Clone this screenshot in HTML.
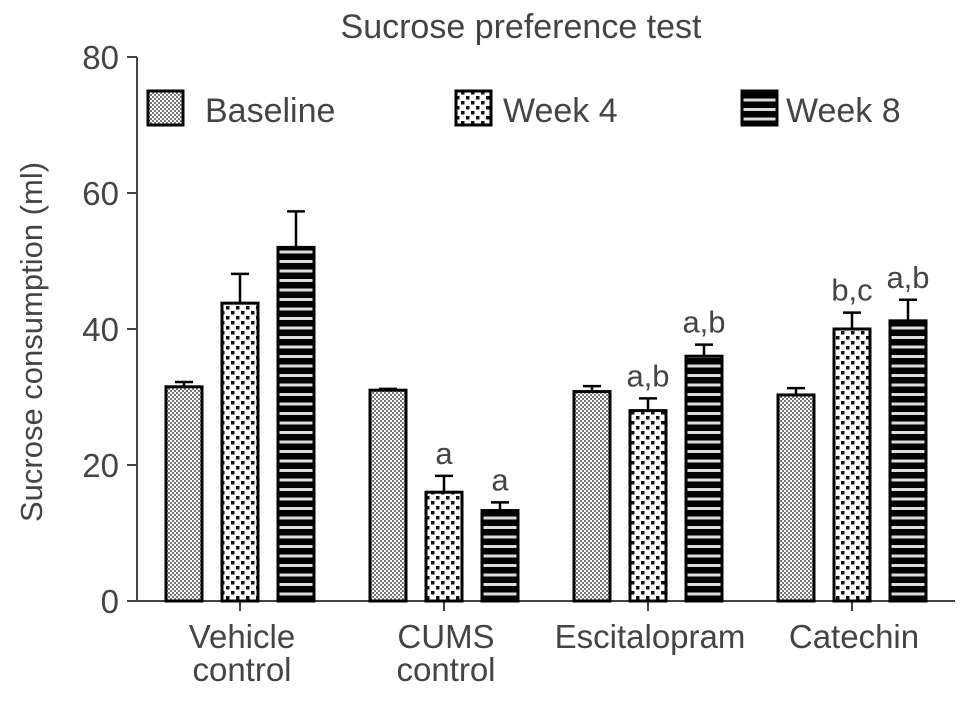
<!DOCTYPE html>
<html><head><meta charset="utf-8"><style>
body{margin:0;background:#fff}
svg{font-family:"Liberation Sans",Arial,sans-serif;fill:#444}
</style></head><body>
<svg id="chart" width="969" height="696" viewBox="0 0 969 696" xmlns="http://www.w3.org/2000/svg">
<defs>
<pattern id="pBase" width="4" height="4" patternUnits="userSpaceOnUse"><rect width="4" height="4" fill="#fff"/><rect width="2" height="2" fill="#777"/><rect x="2" y="2" width="2" height="2" fill="#777"/></pattern>
<pattern id="pW4" width="10" height="10" patternUnits="userSpaceOnUse"><rect width="10" height="10" fill="#fff"/><rect x="1" y="1" width="3.5" height="3.5" fill="#111"/><rect x="6" y="6" width="3.5" height="3.5" fill="#111"/></pattern>
<pattern id="pW8" width="10" height="9.5" patternUnits="userSpaceOnUse"><rect width="10" height="9.5" fill="#000"/><rect y="3.5" width="10" height="3" fill="#ddd"/></pattern>
</defs>
<text x="521" y="38" font-size="34" text-anchor="middle">Sucrose preference test</text>
<text transform="translate(42,342) rotate(-90)" font-size="31" text-anchor="middle">Sucrose consumption (ml)</text>
<g id="axes"></g>
<g id="bars"></g>
<g id="legend">
<rect x="148" y="91" width="35" height="34" fill="url(#pBase)" stroke="#000" stroke-width="3"/>
<text x="205" y="122" font-size="34">Baseline</text>
<rect x="456" y="91" width="35" height="34" fill="url(#pW4)" stroke="#000" stroke-width="3"/>
<text x="503" y="122" font-size="34">Week 4</text>
<rect x="742" y="91" width="35" height="34" fill="url(#pW8)" stroke="#000" stroke-width="3"/>
<text x="786" y="122" font-size="34">Week 8</text>
</g>
</svg>
<script>
const categories=[["Vehicle","control"],["CUMS","control"],["Escitalopram"],["Catechin"]];
const baseline=[31.5,31,30.8,30.3];
const baselineErr=[0.7,0.2,0.8,1.0];
const week4=[43.8,16,28,40];
const week4Err=[4.3,2.4,1.8,2.4];
const week8=[52,13.3,36,41.2];
const week8Err=[5.3,1.2,1.7,3.1];
const week4Labels=["","a","a,b","b,c"];
const week8Labels=["","a","a,b","a,b"];
const yTicks=[0,20,40,60,80];

const NS="http://www.w3.org/2000/svg";
function y(v){return 601-v*6.8;}
function xc(i){return 240+204*i;}
function mk(tag,attrs,parent){const e=document.createElementNS(NS,tag);for(const k in attrs)e.setAttribute(k,attrs[k]);parent.appendChild(e);return e;}
const axes=document.getElementById('axes'),bars=document.getElementById('bars');
let l=mk('line',{x1:137,y1:57,x2:137,y2:602,stroke:'#444','stroke-width':2},axes);


l=mk('line',{x1:136,y1:601,x2:955,y2:601,stroke:'#444','stroke-width':2},axes);


yTicks.forEach(t=>{
 const tk=mk('line',{x1:127,y1:y(t),x2:137,y2:y(t),stroke:'#444','stroke-width':2},axes);
 
 
 const tx=mk('text',{x:119,y:y(t)+12,'font-size':33,'text-anchor':'end'},axes);
 tx.textContent=t;
 
 
});
categories.forEach((c,i)=>{
 const tk=mk('line',{x1:xc(i),y1:601,x2:xc(i),y2:611,stroke:'#444','stroke-width':2},axes);
 
 
 c.forEach((line,j)=>{
  const tx=mk('text',{x:xc(i)+2,y:648+j*33,'font-size':33,'text-anchor':'middle'},axes);
  tx.textContent=line;
  
  
 });
});
const series=[[baseline,baselineErr,'url(#pBase)',null,'baseline'],[week4,week4Err,'url(#pW4)',week4Labels,'week4'],[week8,week8Err,'url(#pW8)',week8Labels,'week8']];
series.forEach((s,k)=>{
 s[0].forEach((v,i)=>{
  const cx=xc(i)+(k-1)*56;
  const top=y(v),et=y(v+s[1][i]);
  const eb=mk('line',{x1:cx,y1:top,x2:cx,y2:et,stroke:'#000','stroke-width':2.5},bars);
  
  
  const cap=mk('line',{x1:cx-9,y1:et,x2:cx+9,y2:et,stroke:'#000','stroke-width':2.5},bars);
  
  
  const r=mk('rect',{x:cx-18,y:top,width:36,height:601-top,fill:s[2],stroke:'#000','stroke-width':3},bars);
  
  
  if(s[3]&&s[3][i]){
   const t=mk('text',{x:cx,y:et-12,'font-size':31,'text-anchor':'middle'},bars);
   t.textContent=s[3][i];
   
   
  }
 });
});
</script>
</body></html>
